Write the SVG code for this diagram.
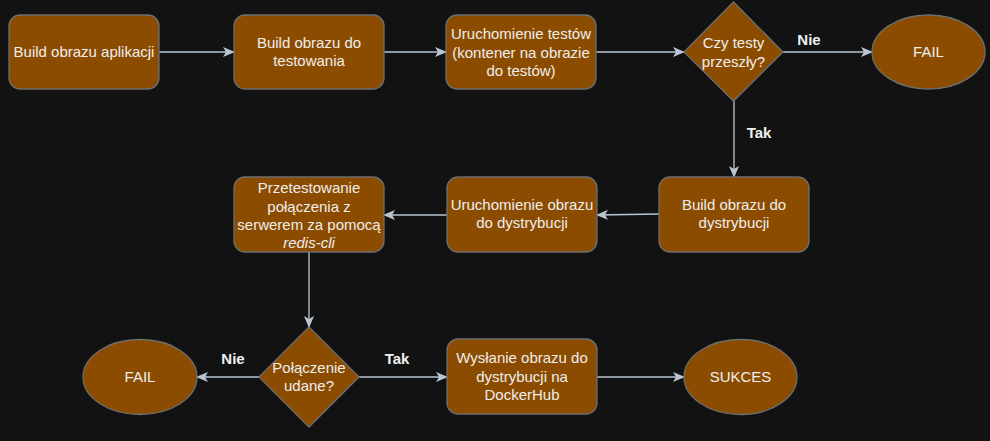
<svg xmlns="http://www.w3.org/2000/svg" width="990" height="441" viewBox="0 0 990 441">
<defs>
<style>
.n{fill:#8c4c00;stroke:#6e6e6e;stroke-width:1.3}
.t{font-family:"Liberation Sans",Arial,sans-serif;font-size:15px;fill:#eeeeee;text-anchor:middle}
.l{font-family:"Liberation Sans",Arial,sans-serif;font-size:15px;font-weight:bold;fill:#f0f0f0;text-anchor:middle}
.e{fill:none;stroke:#b9c6d2;stroke-width:1.3}
</style>
<marker id="a" viewBox="0 0 12 10" refX="11" refY="5" markerWidth="12" markerHeight="10" markerUnits="userSpaceOnUse" orient="auto">
<path d="M0,0 L12,5 L0,10 L3,5 Z" fill="#b9c6d2"/>
</marker>
</defs>
<rect width="990" height="441" fill="#121212"/>
<g id="connectors">
<path class="e" d="M159,52 H234" marker-end="url(#a)"/>
<path class="e" d="M384,52 H446" marker-end="url(#a)"/>
<path class="e" d="M596,52 H684" marker-end="url(#a)"/>
<path class="e" d="M783,52 H872" marker-end="url(#a)"/>
<path class="e" d="M734,101 V177" marker-end="url(#a)"/>
<path class="e" d="M659,214 L597,215" marker-end="url(#a)"/>
<path class="e" d="M447,215 H384" marker-end="url(#a)"/>
<path class="e" d="M309,252 V327" marker-end="url(#a)"/>
<path class="e" d="M259,377 H197" marker-end="url(#a)"/>
<path class="e" d="M359,377 H447" marker-end="url(#a)"/>
<path class="e" d="M597,377 H684" marker-end="url(#a)"/>
<text class="l" x="809" y="45">Nie</text>
<text class="l" x="759" y="138">Tak</text>
<text class="l" x="233" y="364">Nie</text>
<text class="l" x="397" y="364">Tak</text>
</g>
<g id="n1"><rect class="n" x="9" y="15" width="150" height="74" rx="11"/><text class="t" x="84" y="57">Build obrazu aplikacji</text></g>
<g id="n2"><rect class="n" x="234" y="15" width="150" height="74" rx="11"/><text class="t" x="309" y="48">Build obrazu do</text><text class="t" x="309" y="66">testowania</text></g>
<g id="n3"><rect class="n" x="446" y="15" width="150" height="74" rx="11"/><text class="t" x="521" y="39">Uruchomienie testów</text><text class="t" x="521" y="57.5">(kontener na obrazie</text><text class="t" x="521" y="76">do testów)</text></g>
<g id="d1"><path class="n" d="M733.5,2 L783,52 L733.5,101 L684,52 Z"/><text class="t" x="733.5" y="48">Czy testy</text><text class="t" x="733.5" y="67">przeszły?</text></g>
<g id="f1"><ellipse class="n" cx="928.5" cy="52" rx="56.5" ry="37"/><text class="t" x="928.5" y="57">FAIL</text></g>
<g id="n6"><rect class="n" x="659" y="177" width="150" height="75" rx="11"/><text class="t" x="734" y="210">Build obrazu do</text><text class="t" x="734" y="228">dystrybucji</text></g>
<g id="n5"><rect class="n" x="447" y="177" width="150" height="75" rx="11"/><text class="t" x="522" y="210">Uruchomienie obrazu</text><text class="t" x="522" y="228">do dystrybucji</text></g>
<g id="n4"><rect class="n" x="234" y="177" width="150" height="75" rx="11"/><text class="t" x="309" y="193">Przetestowanie</text><text class="t" x="309" y="211.5">połączenia z</text><text class="t" x="309" y="230">serwerem za pomocą</text><text class="t" x="309" y="248" font-style="italic">redis-cli</text></g>
<g id="d2"><path class="n" d="M309,327 L359,377 L309,427 L259,377 Z"/><text class="t" x="309" y="373">Połączenie</text><text class="t" x="309" y="391">udane?</text></g>
<g id="f2"><ellipse class="n" cx="140" cy="377" rx="57" ry="37.5"/><text class="t" x="140" y="382">FAIL</text></g>
<g id="n7"><rect class="n" x="447" y="339" width="150" height="75" rx="11"/><text class="t" x="522" y="363">Wysłanie obrazu do</text><text class="t" x="522" y="381.5">dystrybucji na</text><text class="t" x="522" y="400">DockerHub</text></g>
<g id="s"><ellipse class="n" cx="740.5" cy="377" rx="56.5" ry="37.5"/><text class="t" x="740.5" y="382">SUKCES</text></g>
</svg>
